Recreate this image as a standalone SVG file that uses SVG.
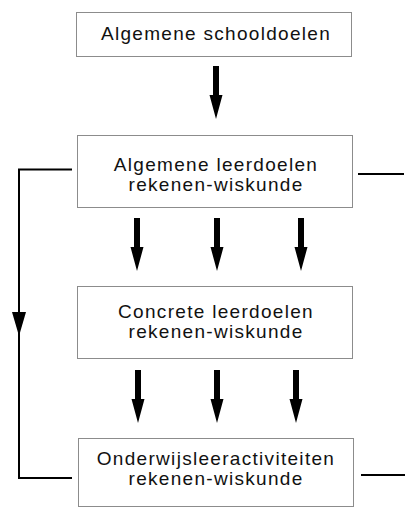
<svg xmlns="http://www.w3.org/2000/svg" width="406" height="508" viewBox="0 0 406 508">
<style>
.box{fill:#fff;stroke:#8c8c8c;stroke-width:1}
.t{font-family:"Liberation Sans",Arial,sans-serif;font-size:19px;letter-spacing:1.3px;fill:#111;text-anchor:middle}
.ln{fill:none;stroke:#000;stroke-width:2}
.ar{fill:#000}
</style>
<defs>
<path id="arr" d="M-3,0 H3 V29 H6.5 L0,53 L-6.5,29 H-3 Z"/>
</defs>
<rect width="406" height="508" fill="#fff"/>
<g id="connectors">
<use href="#arr" class="ar" x="216" y="66"/>
<use href="#arr" class="ar" x="137" y="218"/>
<use href="#arr" class="ar" x="217" y="218"/>
<use href="#arr" class="ar" x="301" y="218"/>
<use href="#arr" class="ar" x="138" y="370"/>
<use href="#arr" class="ar" x="217" y="370"/>
<use href="#arr" class="ar" x="296" y="370"/>
<path class="ln" d="M72,169.5 H19 V478 H72"/>
<path class="ar" d="M12,312 H26 L19,336 Z"/>
<path class="ln" d="M358,174 H404"/>
<path class="ln" d="M361,475 H405"/>
</g>
<g id="n1">
<rect class="box" x="76.5" y="12.5" width="275" height="44"/>
<text class="t" x="216" y="40">Algemene schooldoelen</text>
</g>
<g id="n2">
<rect class="box" x="77.5" y="135.5" width="275" height="72"/>
<text class="t" x="216" y="171">Algemene leerdoelen</text>
<text class="t" x="216" y="191">rekenen-wiskunde</text>
</g>
<g id="n3">
<rect class="box" x="77.5" y="286.5" width="275" height="72"/>
<text class="t" x="216" y="318">Concrete leerdoelen</text>
<text class="t" x="216" y="338">rekenen-wiskunde</text>
</g>
<g id="n4">
<rect class="box" x="78.5" y="438.5" width="275" height="68"/>
<text class="t" x="216" y="465">Onderwijsleeractiviteiten</text>
<text class="t" x="216" y="485">rekenen-wiskunde</text>
</g>
</svg>
